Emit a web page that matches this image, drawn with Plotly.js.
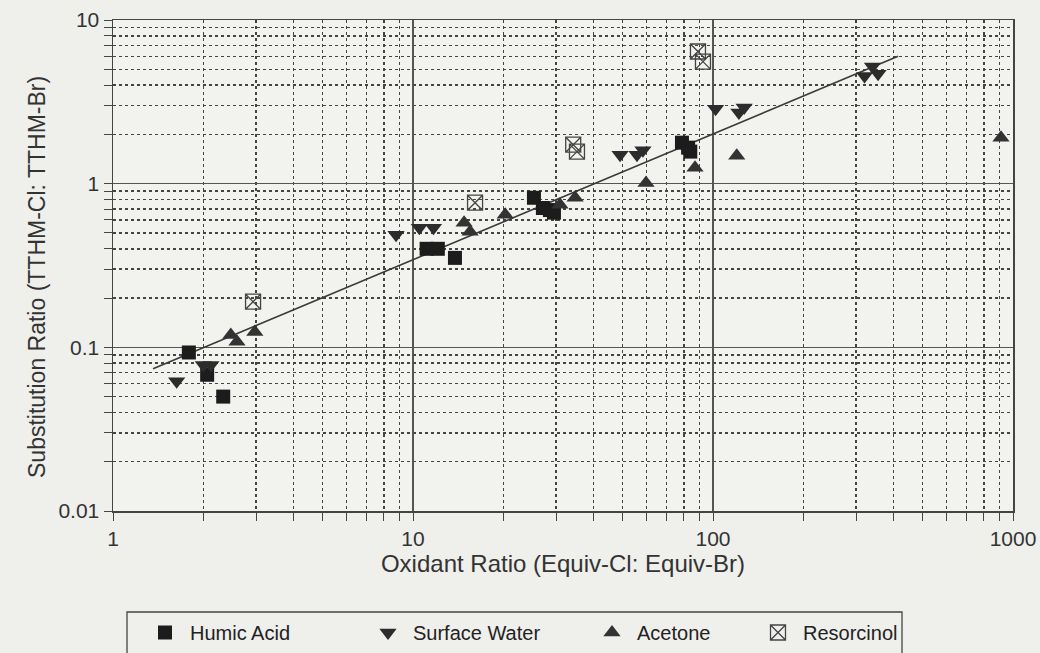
<!DOCTYPE html>
<html>
<head>
<meta charset="utf-8">
<script src="https://cdn.plot.ly/plotly-3.0.1.min.js"></script>
<style>
html,body{margin:0;padding:0;background:#efefec;}
#chart{width:1040px;height:653px;}
</style>
</head>
<body>
<div id="chart"></div>
<script>
// Data
const humicX = [1.79, 2.06, 2.33, 11.1, 12.1, 13.8, 25.3, 27.1, 28.6, 29.5, 78.8, 82.6, 84.0];
const humicY = [0.093, 0.068, 0.050, 0.40, 0.40, 0.352, 0.82, 0.71, 0.69, 0.665, 1.78, 1.66, 1.57];

const surfX = [1.63, 2.0, 2.12, 8.78, 10.5, 11.7, 49, 55.8, 58.4, 102, 122, 127, 320, 340, 355];
const surfY = [0.062, 0.078, 0.078, 0.488, 0.538, 0.538, 1.5, 1.5, 1.6, 2.87, 2.72, 2.92, 4.55, 5.2, 4.7];

const acetX = [2.47, 2.59, 2.97, 14.8, 15.5, 20.3, 30.9, 34.7, 59.8, 87.1, 120, 912];
const acetY = [0.119, 0.108, 0.124, 0.577, 0.508, 0.646, 0.744, 0.82, 1.01, 1.25, 1.48, 1.91];

const resX = [2.93, 16.1, 34.2, 35.2, 89.1, 92.6];
const resY = [0.19, 0.765, 1.73, 1.57, 6.42, 5.57];

const trendX = [1.36, 414];
const trendY = [0.074, 6.0];

const seriesNames = ["Humic Acid", "Surface Water", "Acetone", "Resorcinol"];
const xTickVals = [1, 10, 100, 1000];
const xTickText = ["1", "10", "100", "1000"];
const yTickVals = [0.01, 0.1, 1, 10];
const yTickText = ["0.01", "0.1", "1", "10"];
const xTitle = "Oxidant Ratio (Equiv-Cl: Equiv-Br)";
const yTitle = "Substitution Ratio (TTHM-Cl: TTHM-Br)";

const regular = "Liberation Sans, Arial, sans-serif";

// plot area geometry (px)
const L = 113, T = 20, W = 900, H = 491;
function pxX(px){ return (px - L) / W; }
function pxY(py){ return (T + H - py) / H; }

const traces = [
  {x: trendX, y: trendY, mode: "lines", line: {color: "#3a3a3a", width: 1.6}, showlegend: false, hoverinfo: "skip"},
  {x: humicX, y: humicY, name: seriesNames[0], mode: "markers", legend: "legend",
   marker: {symbol: "square", size: 14, color: "#1c1c1c"}},
  {x: surfX, y: surfY, name: seriesNames[1], mode: "markers", legend: "legend2",
   marker: {symbol: "triangle-down", size: 15, color: "#2c2c2c"}},
  {x: acetX, y: acetY, name: seriesNames[2], mode: "markers", legend: "legend3",
   marker: {symbol: "triangle-up", size: 15, color: "#333333"}},
  {x: resX, y: resY, name: seriesNames[3], mode: "markers", legend: "legend4",
   marker: {symbol: "square-x-open", size: 15, color: "#444444", line: {width: 1.3}}}
];

const legBase = {orientation: "h", yanchor: "top", xanchor: "left", y: pxY(613),
  itemwidth: 40, bgcolor: "rgba(0,0,0,0)", borderwidth: 0,
  font: {family: regular, size: 20, color: "#222"}};

const layout = {
  width: 1040, height: 653,
  margin: {l: L, r: 1040 - L - W, t: T, b: 653 - T - H, autoexpand: false},
  paper_bgcolor: "#efefec",
  plot_bgcolor: "#f2f2ef",
  xaxis: {
    type: "log", range: [0, 3],
    tickvals: xTickVals, ticktext: xTickText,
    showline: true, mirror: true, linecolor: "#444", linewidth: 1.5,
    showgrid: true, gridcolor: "#555", gridwidth: 1.3,
    ticks: "outside", ticklen: 8, tickcolor: "#444",
    tickfont: {family: regular, size: 21, color: "#333"},
    minor: {dtick: "D1", showgrid: true, gridcolor: "#444", gridwidth: 1.5, griddash: "dot",
            ticks: "outside", ticklen: 8, tickcolor: "#444"},
    zeroline: false,
    automargin: false,
    title: {text: xTitle, standoff: 5, font: {family: regular, size: 24, color: "#333"}}
  },
  yaxis: {
    type: "log", range: [-2, 1],
    tickvals: yTickVals, ticktext: yTickText,
    showline: true, mirror: true, linecolor: "#444", linewidth: 1.5,
    showgrid: true, gridcolor: "#555", gridwidth: 1.3,
    ticks: "outside", ticklen: 8, tickcolor: "#444",
    tickfont: {family: regular, size: 21, color: "#333"},
    minor: {dtick: "D1", showgrid: true, gridcolor: "#444", gridwidth: 1.5, griddash: "dot",
            ticks: "outside", ticklen: 8, tickcolor: "#444"},
    zeroline: false,
    automargin: false
  },
  annotations: [
    {text: yTitle, xref: "paper", yref: "paper", x: pxX(37), y: pxY(277),
     xanchor: "center", yanchor: "middle", textangle: -90, showarrow: false,
     font: {family: regular, size: 23, color: "#333"}}
  ],
  legend:  Object.assign({}, legBase, {x: pxX(165 - 25)}),
  legend2: Object.assign({}, legBase, {x: pxX(388 - 25)}),
  legend3: Object.assign({}, legBase, {x: pxX(612 - 25)}),
  legend4: Object.assign({}, legBase, {x: pxX(778 - 25)}),
  shapes: [
    {type: "rect", xref: "paper", yref: "paper",
     x0: pxX(127), x1: pxX(902), y0: pxY(612), y1: pxY(672),
     line: {color: "#444", width: 1.3}, fillcolor: "rgba(0,0,0,0)"}
  ],
  showlegend: true
};

Plotly.newPlot("chart", traces, layout, {displayModeBar: false, staticPlot: true});
</script>
</body>
</html>
